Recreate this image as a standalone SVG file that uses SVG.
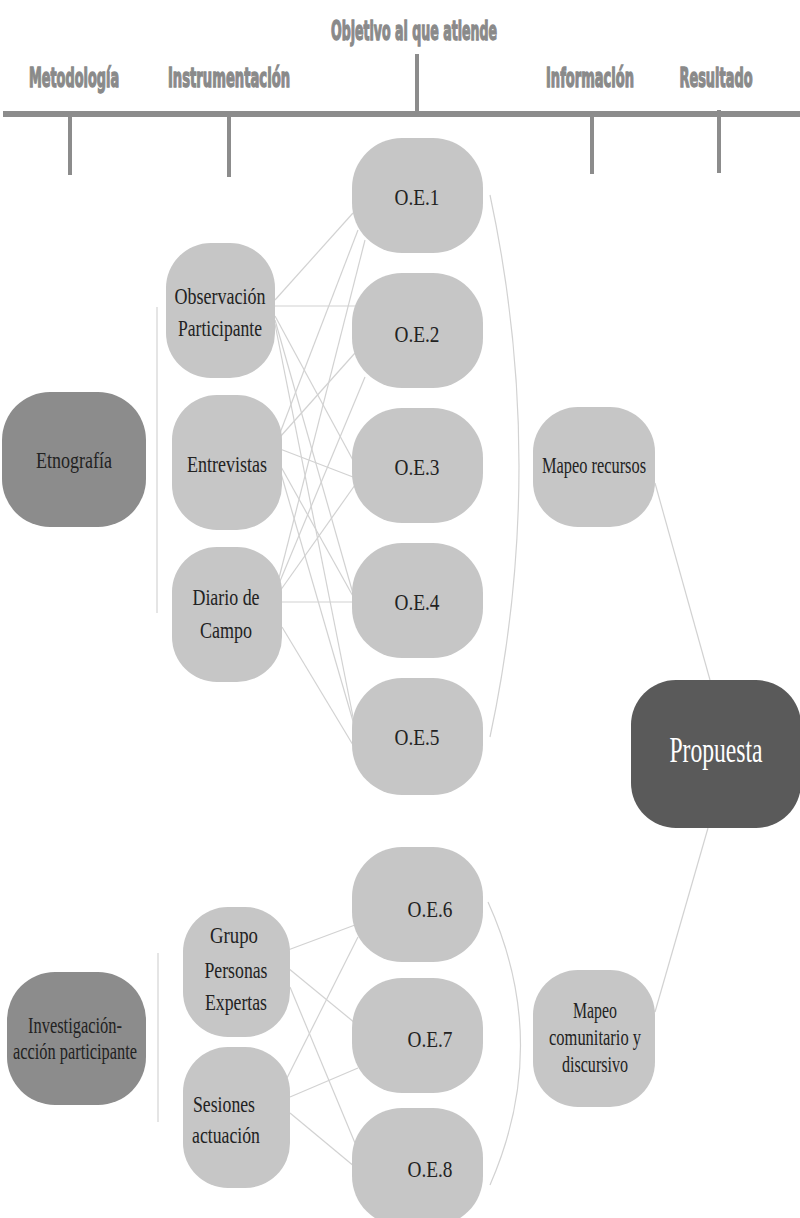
<svg xmlns="http://www.w3.org/2000/svg" width="800" height="1218" viewBox="0 0 800 1218">
<style>
.hdr{font-family:"DejaVu Sans Condensed","Liberation Sans Narrow","DejaVu Sans",sans-serif;font-weight:bold;fill:#8a8a8a;stroke:#8a8a8a;stroke-width:1.3;font-size:26px;text-anchor:middle}
.tick{stroke:#8c8c8c;stroke-width:4;fill:none}
.n{fill:#c6c6c6}
.m{fill:#8c8c8c}
.p{fill:#5a5a5a}
.t{font-family:"Liberation Serif","Times New Roman",serif;font-size:24px;fill:#222;text-anchor:middle}
.tw{font-family:"Liberation Serif","Times New Roman",serif;font-size:35px;fill:#fff;text-anchor:middle}
.c{stroke:#d2d2d2;stroke-width:1.2;fill:none}
.b{stroke:#dcdcdc;stroke-width:1.5;fill:none}
</style>
<rect width="800" height="1218" fill="#fff"/>
<g id="header">
<text class="hdr" transform="translate(414,40) scale(0.5,1)" x="0" y="0" textLength="332" lengthAdjust="spacingAndGlyphs">Objetivo al que atiende</text>
<text class="hdr" transform="translate(74,87) scale(0.55,1)" x="0" y="0" textLength="164" lengthAdjust="spacingAndGlyphs">Metodología</text>
<text class="hdr" transform="translate(229,87) scale(0.55,1)" x="0" y="0" textLength="222" lengthAdjust="spacingAndGlyphs">Instrumentación</text>
<text class="hdr" transform="translate(590,87) scale(0.55,1)" x="0" y="0" textLength="160" lengthAdjust="spacingAndGlyphs">Información</text>
<text class="hdr" transform="translate(716,87) scale(0.55,1)" x="0" y="0" textLength="133" lengthAdjust="spacingAndGlyphs">Resultado</text>
<line x1="3" y1="114" x2="800" y2="114" stroke="#8c8c8c" stroke-width="6"/>
<line class="tick" x1="70" y1="114" x2="70" y2="175"/>
<line class="tick" x1="229" y1="114" x2="229" y2="177"/>
<line class="tick" x1="417" y1="54" x2="417" y2="114"/>
<line class="tick" x1="592" y1="114" x2="592" y2="174"/>
<line class="tick" x1="719" y1="110" x2="719" y2="173"/>
</g>
<g id="connectors">
<line class="b" x1="157" y1="307" x2="157" y2="613"/>
<line class="b" x1="158" y1="953" x2="158" y2="1122"/>
<path class="c" d="M490,195 Q548,466 490,737"/>
<path class="c" d="M488,902 Q552,1043 490,1185"/>
<line class="c" x1="275" y1="300" x2="353" y2="213"/>
<line class="c" x1="275" y1="306" x2="357" y2="306"/>
<line class="c" x1="275" y1="316" x2="354" y2="462"/>
<line class="c" x1="275" y1="320" x2="354" y2="597"/>
<line class="c" x1="275" y1="324" x2="354" y2="722"/>
<line class="c" x1="280" y1="433" x2="358" y2="230"/>
<line class="c" x1="280" y1="437" x2="355" y2="353"/>
<line class="c" x1="280" y1="449" x2="353" y2="477"/>
<line class="c" x1="280" y1="465" x2="354" y2="598"/>
<line class="c" x1="280" y1="470" x2="355" y2="728"/>
<line class="c" x1="278" y1="582" x2="365" y2="240"/>
<line class="c" x1="278" y1="586" x2="365" y2="377"/>
<line class="c" x1="280" y1="591" x2="355" y2="485"/>
<line class="c" x1="280" y1="602" x2="353" y2="602"/>
<line class="c" x1="282" y1="627" x2="353" y2="745"/>
<line class="c" x1="288" y1="950" x2="355" y2="925"/>
<line class="c" x1="288" y1="968" x2="355" y2="1023"/>
<line class="c" x1="290" y1="987" x2="355" y2="1143"/>
<line class="c" x1="287" y1="1078" x2="358" y2="937"/>
<line class="c" x1="290" y1="1097" x2="358" y2="1068"/>
<line class="c" x1="290" y1="1113" x2="355" y2="1167"/>
<line class="c" x1="655" y1="483" x2="710" y2="680"/>
<line class="c" x1="708" y1="828" x2="655" y2="1012"/>
</g>
<g id="etnografia"><rect class="m" x="2" y="392" width="144" height="135" rx="48"/><text class="t" x="74" y="468" textLength="76" lengthAdjust="spacingAndGlyphs">Etnografía</text></g>
<g id="iap"><rect class="m" x="7" y="972" width="139" height="133" rx="48"/><text class="t" x="75" y="1033" textLength="94" lengthAdjust="spacingAndGlyphs">Investigación-</text><text class="t" x="75" y="1059" textLength="124" lengthAdjust="spacingAndGlyphs">acción participante</text></g>
<g id="observacion"><rect class="n" x="166" y="243" width="109" height="135" rx="45"/><text class="t" x="220" y="304" textLength="91" lengthAdjust="spacingAndGlyphs">Observación</text><text class="t" x="220" y="336" textLength="84" lengthAdjust="spacingAndGlyphs">Participante</text></g>
<g id="entrevistas"><rect class="n" x="172" y="395" width="110" height="135" rx="45"/><text class="t" x="227" y="472" textLength="80" lengthAdjust="spacingAndGlyphs">Entrevistas</text></g>
<g id="diario"><rect class="n" x="172" y="547" width="110" height="135" rx="45"/><text class="t" x="226" y="605" textLength="67" lengthAdjust="spacingAndGlyphs">Diario de</text><text class="t" x="226" y="638" textLength="52" lengthAdjust="spacingAndGlyphs">Campo</text></g>
<g id="grupo"><rect class="n" x="183" y="907" width="107" height="130" rx="45"/><text class="t" x="234" y="943" textLength="48" lengthAdjust="spacingAndGlyphs">Grupo</text><text class="t" x="236" y="978" textLength="63" lengthAdjust="spacingAndGlyphs">Personas</text><text class="t" x="236" y="1010" textLength="62" lengthAdjust="spacingAndGlyphs">Expertas</text></g>
<g id="sesiones"><rect class="n" x="183" y="1047" width="107" height="141" rx="45"/><text class="t" x="224" y="1112" textLength="62" lengthAdjust="spacingAndGlyphs">Sesiones</text><text class="t" x="226" y="1143" textLength="68" lengthAdjust="spacingAndGlyphs">actuación</text></g>
<g id="oe1"><rect class="n" x="352" y="138" width="131" height="115" rx="50"/><text class="t" x="417" y="205" textLength="45" lengthAdjust="spacingAndGlyphs">O.E.1</text></g>
<g id="oe2"><rect class="n" x="352" y="273" width="131" height="115" rx="50"/><text class="t" x="417" y="342" textLength="45" lengthAdjust="spacingAndGlyphs">O.E.2</text></g>
<g id="oe3"><rect class="n" x="352" y="408" width="131" height="115" rx="50"/><text class="t" x="417" y="475" textLength="45" lengthAdjust="spacingAndGlyphs">O.E.3</text></g>
<g id="oe4"><rect class="n" x="352" y="543" width="131" height="115" rx="50"/><text class="t" x="417" y="610" textLength="45" lengthAdjust="spacingAndGlyphs">O.E.4</text></g>
<g id="oe5"><rect class="n" x="352" y="678" width="131" height="117" rx="50"/><text class="t" x="417" y="745" textLength="45" lengthAdjust="spacingAndGlyphs">O.E.5</text></g>
<g id="oe6"><rect class="n" x="352" y="847" width="131" height="115" rx="50"/><text class="t" x="430" y="917" textLength="45" lengthAdjust="spacingAndGlyphs">O.E.6</text></g>
<g id="oe7"><rect class="n" x="352" y="978" width="131" height="115" rx="50"/><text class="t" x="430" y="1047" textLength="45" lengthAdjust="spacingAndGlyphs">O.E.7</text></g>
<g id="oe8"><rect class="n" x="352" y="1108" width="131" height="118" rx="50"/><text class="t" x="430" y="1177" textLength="45" lengthAdjust="spacingAndGlyphs">O.E.8</text></g>
<g id="mapeo-recursos"><rect class="n" x="533" y="407" width="122" height="120" rx="45"/><text class="t" x="594" y="473" textLength="104" lengthAdjust="spacingAndGlyphs">Mapeo recursos</text></g>
<g id="mapeo-comunitario"><rect class="n" x="533" y="970" width="122" height="137" rx="45"/><text class="t" x="595" y="1018" textLength="44" lengthAdjust="spacingAndGlyphs">Mapeo</text><text class="t" x="595" y="1045" textLength="92" lengthAdjust="spacingAndGlyphs">comunitario y</text><text class="t" x="595" y="1072" textLength="66" lengthAdjust="spacingAndGlyphs">discursivo</text></g>
<g id="propuesta"><rect class="p" x="631" y="680" width="170" height="148" rx="45"/><text class="tw" transform="translate(716,762) scale(0.68,1)" x="0" y="0" textLength="137" lengthAdjust="spacingAndGlyphs">Propuesta</text></g>
</svg>
